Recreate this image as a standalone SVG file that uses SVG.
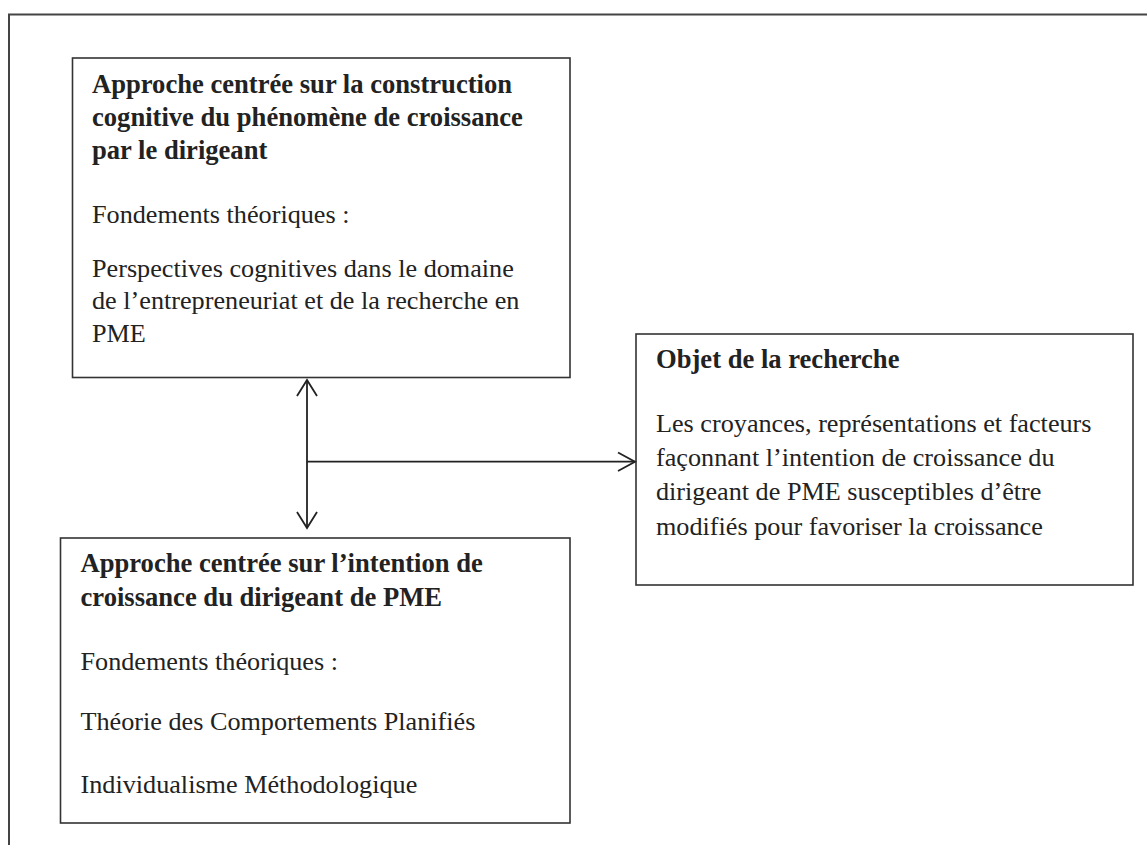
<svg xmlns="http://www.w3.org/2000/svg" width="1147" height="845" viewBox="0 0 1147 845">
<style>
.frame{fill:none;stroke:#444;stroke-width:2}
.box{fill:#fff;stroke:#333;stroke-width:1.6}
.t{font-family:"Liberation Serif","Times New Roman",serif;font-size:26.2px;fill:#222}
.b{font-weight:bold;font-size:26.6px}
.conn{fill:none;stroke:#222;stroke-width:1.8}
</style>
<rect width="1147" height="845" fill="#fff"/>
<path class="frame" d="M9,860 V14.5 H1160"/>
<g id="box-cognitive">
<rect class="box" x="72.5" y="58" width="497.5" height="319.5"/>
<text class="t b" x="92" y="93">Approche centrée sur la construction</text>
<text class="t b" x="92" y="126">cognitive du phénomène de croissance</text>
<text class="t b" x="92" y="159">par le dirigeant</text>
<text class="t" x="92" y="223">Fondements théoriques :</text>
<text class="t" x="92" y="277">Perspectives cognitives dans le domaine</text>
<text class="t" x="92" y="309">de l’entrepreneuriat et de la recherche en</text>
<text class="t" x="92" y="342">PME</text>
</g>
<g id="box-intention">
<rect class="box" x="60.5" y="538" width="509.5" height="285"/>
<text class="t b" x="80.5" y="572">Approche centrée sur l’intention de</text>
<text class="t b" x="80.5" y="606">croissance du dirigeant de PME</text>
<text class="t" x="80.5" y="670">Fondements théoriques :</text>
<text class="t" x="80.5" y="730">Théorie des Comportements Planifiés</text>
<text class="t" x="80.5" y="793">Individualisme Méthodologique</text>
</g>
<g id="box-objet">
<rect class="box" x="636" y="334" width="497" height="251"/>
<text class="t b" x="656" y="368">Objet de la recherche</text>
<text class="t" x="656" y="432">Les croyances, représentations et facteurs</text>
<text class="t" x="656" y="466">façonnant l’intention de croissance du</text>
<text class="t" x="656" y="500">dirigeant de PME susceptibles d’être</text>
<text class="t" x="656" y="535">modifiés pour favoriser la croissance</text>
</g>
<g id="connectors">
<path class="conn" d="M307,380 V528"/>
<path class="conn" d="M297,396 L307,380 L317,396"/>
<path class="conn" d="M297,512 L307,528 L317,512"/>
<path class="conn" d="M307,461.7 H635"/>
<path class="conn" d="M618,452.5 L635,461.7 L618,471"/>
</g>
</svg>
